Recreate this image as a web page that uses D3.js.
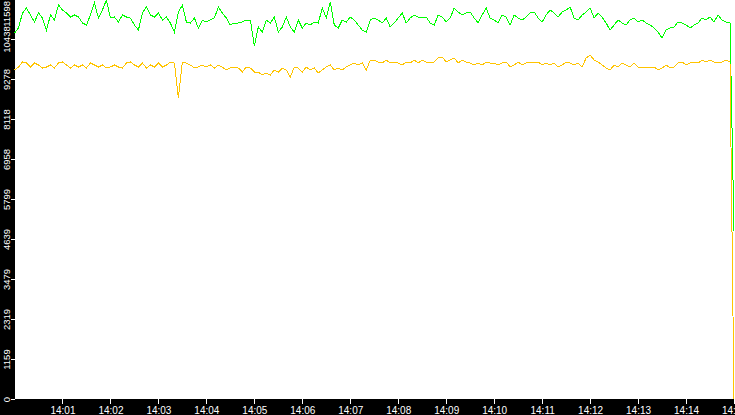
<!DOCTYPE html>
<meta charset="utf-8">
<style>

body {
  margin: 0;
  background: #000;
  font-family: "DejaVu Sans", sans-serif;
}

.line {
  fill: none;
  stroke-width: 1;
  shape-rendering: crispEdges;
}

.axis text {
  fill: #fff;
  font-size: 10px;
}

.y.axis text {
  font-size: 9.5px;
}

.axis line {
  stroke: #fff;
  shape-rendering: crispEdges;
}

</style>
<body>
<script src="https://d3js.org/d3.v7.min.js"></script>
<script>

// samples start at 14:00:00, one every 5 seconds
var startTime = "14:00:00";
var stepSeconds = 5;

// upper series (green)
var greenValues = [
  10612, 10757, 11192, 11337, 11134, 10931, 11192, 11047, 10699, 11134,
  10989, 11424, 11279, 11192, 11076, 11134, 11076, 10902, 10844, 11134,
  11482, 11047, 11279, 11569, 11047, 11076, 10931, 11134, 11076, 11047,
  10844, 10699, 11192, 11366, 11134, 11076, 11192, 10989, 11076, 10902,
  10641, 11221, 11424, 10931, 10902, 11047, 10757, 10989, 10931, 10989,
  11047, 11366, 11192, 11047, 10844, 10902, 10902, 10931, 10989, 10989,
  10235, 10786, 10641, 10989, 10902, 11076, 10641, 10786, 11076, 10786,
  10641, 10989, 10757, 10902, 10844, 10931, 10902, 11337, 11047, 11511,
  10844, 10757, 10989, 10931, 11076, 10989, 10844, 10699, 10641, 10989,
  11047, 10989, 10902, 11047, 10786, 10902, 11047, 11192, 10902, 11047,
  11134, 11076, 11047, 11076, 10902, 10844, 11134, 11076, 10931, 11047,
  11337, 11221, 11134, 11192, 11221, 11047, 10902, 11134, 11337, 11047,
  10989, 10902, 11134, 11076, 10844, 11134, 11047, 10989, 11076, 11192,
  11221, 11047, 10931, 11134, 11279, 11192, 11076, 11221, 11279, 11366,
  11047, 10989, 11134, 11221, 11337, 11047, 11192, 11076, 10902, 10699,
  10844, 10989, 10902, 10844, 10989, 11047, 10931, 10989, 10902, 10844,
  10757, 10641, 10467, 10699, 10757, 10786, 10931, 10902, 10844, 10757,
  10844, 10902, 11047, 10989, 11076, 10931, 11134, 10989, 10931, 10902,
  4870
];

// lower series (orange)
var orangeValues = [
  9539, 9626, 9771, 9742, 9626, 9742, 9684, 9597, 9626, 9684,
  9597, 9742, 9771, 9684, 9597, 9684, 9626, 9684, 9597, 9742,
  9684, 9626, 9684, 9597, 9626, 9684, 9626, 9597, 9742, 9771,
  9684, 9626, 9742, 9597, 9684, 9626, 9742, 9626, 9684, 9771,
  9742, 8727, 9771, 9742, 9684, 9597, 9626, 9684, 9626, 9684,
  9597, 9684, 9626, 9539, 9597, 9626, 9597, 9481, 9626, 9597,
  9481, 9481, 9394, 9452, 9394, 9539, 9481, 9597, 9539, 9336,
  9626, 9597, 9481, 9626, 9539, 9597, 9452, 9539, 9626, 9684,
  9539, 9597, 9539, 9626, 9684, 9742, 9684, 9742, 9539, 9829,
  9829, 9771, 9742, 9829, 9742, 9771, 9742, 9684, 9771, 9742,
  9829, 9742, 9829, 9771, 9742, 9771, 9887, 9916, 9771, 9829,
  9887, 9742, 9829, 9771, 9742, 9684, 9742, 9684, 9771, 9742,
  9742, 9684, 9742, 9771, 9626, 9684, 9771, 9684, 9742, 9771,
  9742, 9771, 9684, 9742, 9684, 9742, 9626, 9684, 9771, 9742,
  9684, 9742, 9626, 9887, 9974, 9829, 9771, 9684, 9597, 9539,
  9684, 9626, 9742, 9684, 9626, 9742, 9626, 9597, 9626, 9597,
  9626, 9539, 9597, 9684, 9597, 9626, 9742, 9771, 9684, 9742,
  9771, 9742, 9829, 9771, 9829, 9771, 9742, 9771, 9829, 9771,
  0
];

// y tick labels as printed on the chart
var yTicks = [0, 1159, 2319, 3479, 4639, 5799, 6958, 8118, 9278, 10438, 11598];

var totalWidth = 735,
    totalHeight = 415,
    plotLeft = 15,
    plotBottom = 399;

var parseTime = d3.timeParse("%H:%M:%S");
var t0 = parseTime(startTime);

function timeAt(i) {
  return d3.timeSecond.offset(t0, i * stepSeconds);
}

var greenData = greenValues.map(function(v, i) { return {t: timeAt(i), v: v}; });
var orangeData = orangeValues.map(function(v, i) { return {t: timeAt(i), v: v}; });

// scales
var x = d3.scaleTime()
    .domain([t0, d3.timeMinute.offset(t0, 15)])
    .range([plotLeft - 0.5, totalWidth - 1]);

var y = d3.scaleLinear()
    .domain([0, 11598])
    .range([plotBottom, -1]);

var valueline = d3.line()
    .x(function(d) { return x(d.t); })
    .y(function(d) { return y(d.v); });

var svg = d3.select("body").append("svg")
    .attr("width", totalWidth)
    .attr("height", totalHeight)
    .style("display", "block");

// black frame, white plot
svg.append("rect")
    .attr("width", totalWidth)
    .attr("height", totalHeight)
    .attr("fill", "#000");

svg.append("rect")
    .attr("x", plotLeft)
    .attr("y", 0)
    .attr("width", totalWidth - plotLeft)
    .attr("height", plotBottom)
    .attr("fill", "#fff");

// lines
svg.append("path")
    .datum(greenData)
    .attr("class", "line")
    .style("stroke", "#00ff00")
    .attr("d", valueline);

svg.append("path")
    .datum(orangeData)
    .attr("class", "line")
    .style("stroke", "#ffc400")
    .attr("d", valueline);

// x axis
var xAxis = d3.axisBottom(x)
    .tickValues(d3.range(1, 16).map(function(m) { return d3.timeMinute.offset(t0, m); }))
    .tickFormat(d3.timeFormat("%H:%M"))
    .tickSize(5)
    .tickSizeOuter(0);

var gx = svg.append("g")
    .attr("class", "x axis")
    .attr("transform", "translate(0," + plotBottom + ")")
    .call(xAxis);
gx.select(".domain").remove();
gx.selectAll("text").attr("y", 8).attr("dy", "0.71em");

// y axis, labels turned sideways
var yAxis = d3.axisLeft(y)
    .tickValues(yTicks)
    .tickFormat(d3.format("d"))
    .tickSize(4)
    .tickSizeOuter(0);

var gy = svg.append("g")
    .attr("class", "y axis")
    .attr("transform", "translate(" + plotLeft + ",0)")
    .call(yAxis);
gy.select(".domain").remove();

// the top label is pushed down so it stays inside the frame
gy.selectAll(".tick text")
    .attr("x", 0)
    .attr("dy", 0)
    .attr("text-anchor", function(d) { return y(d) < 10 ? "end" : "middle"; })
    .attr("transform", function(d) {
      var shift = y(d) < 10 ? 0.5 - y(d) : 0;
      return "translate(-5," + shift + ") rotate(-90)";
    });

</script>
</body>
